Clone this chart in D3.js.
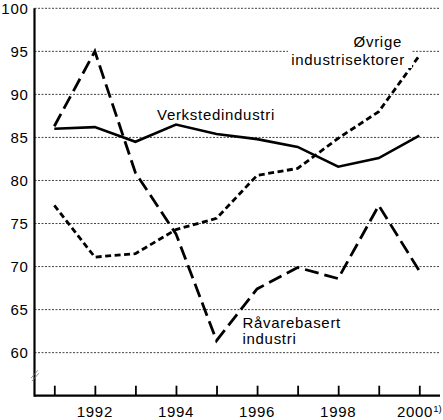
<!DOCTYPE html>
<html>
<head>
<meta charset="utf-8">
<script src="https://cdn.jsdelivr.net/npm/d3@7"></script>
<style>
  html, body { margin: 0; padding: 0; background: #fff; }
  svg { display: block; font-family: "Liberation Sans", Arial, Helvetica, sans-serif; }
  text { letter-spacing: 0.7px; }
</style>
</head>
<body>
<svg id="chart" width="443" height="420"></svg>
<script>
const years = [1991, 1992, 1993, 1994, 1995, 1996, 1997, 1998, 1999, 2000];
const verksted = [86.0, 86.2, 84.5, 86.5, 85.4, 84.8, 83.9, 81.6, 82.6, 85.2];
const ravare = [86.3, 95.0, 80.9, 73.8, 61.4, 67.4, 69.9, 68.6, 77.1, 69.5];
const ovrige = [77.1, 71.1, 71.5, 74.3, 75.6, 80.6, 81.4, 84.9, 88.0, 94.5];
const yTicks = [60, 65, 70, 75, 80, 85, 90, 95, 100];
const xLabelYears = [1992, 1994, 1996, 1998, 2000];

const svg = d3.select("#chart");
const x = d3.scaleLinear().domain([1991, 2000]).range([54.3, 419.3]);
const y = d3.scaleLinear().domain([55, 100]).range([395.7, 8.3]);
const left = 34.5, right = 440;
const fs = 15;

// gridlines
svg.append("g").selectAll("line").data(yTicks).join("line")
  .attr("x1", left).attr("x2", right)
  .attr("y1", d => y(d)).attr("y2", d => y(d))
  .attr("stroke", "#444").attr("stroke-width", 1)
  .attr("stroke-dasharray", "2,1.5");

// y labels
svg.append("g").selectAll("text").data(yTicks).join("text")
  .attr("x", 28.5).attr("y", d => y(d)).attr("dy", "0.36em")
  .attr("text-anchor", "end").attr("font-size", fs)
  .text(d => d);

// x axis with inward ticks
const xAxis = d3.axisBottom(x).tickValues(years).tickSize(-10).tickFormat("");
const gx = svg.append("g").attr("transform", `translate(0,${y(55)})`).call(xAxis);
gx.select(".domain").remove();
gx.selectAll(".tick line").attr("stroke", "#000").attr("stroke-width", 1.8);

svg.append("line").attr("x1", left).attr("x2", right)
  .attr("y1", y(55)).attr("y2", y(55))
  .attr("stroke", "#000").attr("stroke-width", 2.2);
svg.append("line").attr("x1", left).attr("x2", left)
  .attr("y1", y(100)).attr("y2", y(55) + 1.1)
  .attr("stroke", "#000").attr("stroke-width", 2.2);

// axis break mark
[0, 3].forEach(o => {
  svg.append("line")
    .attr("x1", left - 3.5 + o * 0.3).attr("y1", y(57.5) + 4 + o)
    .attr("x2", left + 3.5 + o * 0.3).attr("y2", y(57.5) - 4 + o)
    .attr("stroke", "#777").attr("stroke-width", 0.8);
});

// x labels
const xl = svg.append("g").selectAll("text").data(xLabelYears).join("text")
  .attr("x", d => x(d)).attr("y", 417)
  .attr("text-anchor", "middle").attr("font-size", fs);
xl.append("tspan").text(d => d);
xl.filter(d => d === 2000).append("tspan")
  .attr("font-size", 9.5).attr("dy", -5.5).style("letter-spacing", "0px").text("1)");

// lines
const line = d3.line().x((d, i) => x(years[i])).y(d => y(d));
svg.append("path").datum(verksted).attr("d", line)
  .attr("fill", "none").attr("stroke", "#000").attr("stroke-width", 2.6)
  .attr("stroke-linejoin", "miter");
svg.append("path").datum(ravare).attr("d", line)
  .attr("fill", "none").attr("stroke", "#000").attr("stroke-width", 2.8)
  .attr("stroke-dasharray", "14,6");
svg.append("path").datum(ovrige).attr("d", line)
  .attr("fill", "none").attr("stroke", "#000").attr("stroke-width", 2.8)
  .attr("stroke-dasharray", "6,3.5");

// labels
svg.append("rect").attr("x", 288).attr("y", 34).attr("width", 124).attr("height", 34).attr("fill", "#fff");
svg.append("text").attr("x", 402).attr("y", 47).attr("text-anchor", "end")
  .attr("font-size", fs).text("Øvrige");
svg.append("text").attr("x", 405).attr("y", 65).attr("text-anchor", "end")
  .attr("font-size", fs).text("industrisektorer");
svg.append("text").attr("x", 157).attr("y", 119.5)
  .attr("font-size", fs).text("Verkstedindustri");
svg.append("text").attr("x", 242.5).attr("y", 328)
  .attr("font-size", fs).text("Råvarebasert");
svg.append("text").attr("x", 242.5).attr("y", 343.5)
  .attr("font-size", fs).text("industri");
</script>
</body>
</html>
